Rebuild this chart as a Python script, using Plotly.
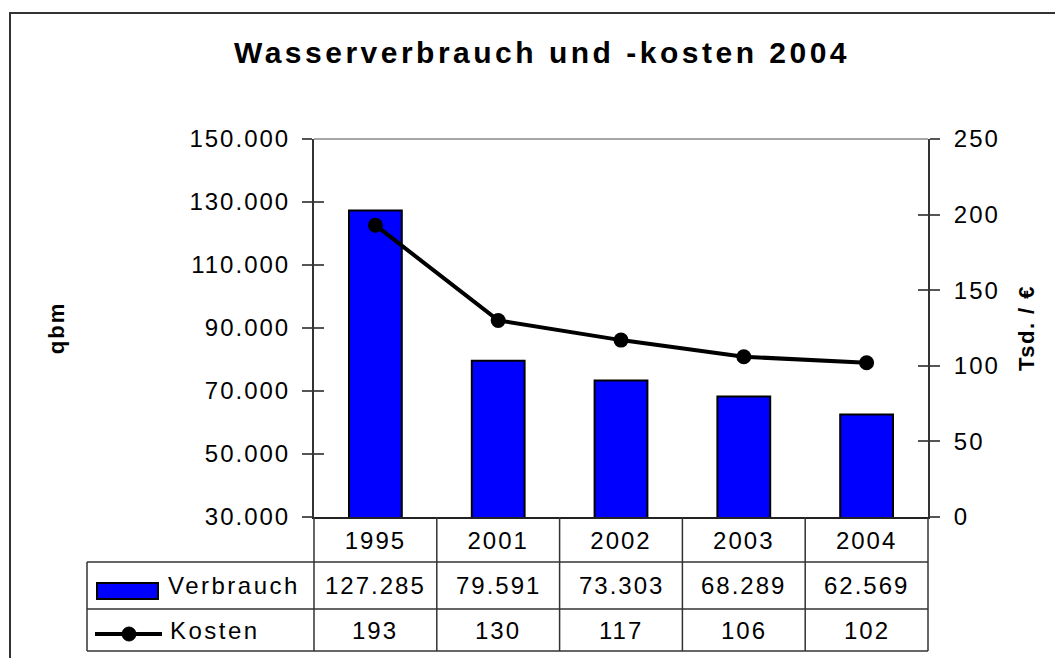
import plotly.graph_objects as go

# ---- data ----
years = ["1995", "2001", "2002", "2003", "2004"]
verbrauch = [127285, 79591, 73303, 68289, 62569]   # qbm
kosten = [193, 130, 117, 106, 102]                 # Tsd. €
left_ticks = [30000, 50000, 70000, 90000, 110000, 130000, 150000]
right_ticks = [0, 50, 100, 150, 200, 250]
title_text = "Wasserverbrauch und -kosten 2004"
left_title = "qbm"
right_title = "Tsd. / €"
series_names = ["Verbrauch", "Kosten"]

FONT = "Liberation Sans, Arial, sans-serif"
OFF = 8                      # default page body margin
W, H = 1063 - OFF, 666 - 2 * OFF   # no page overflow -> no scrollbars
L, R, T, B = 314, 928, 139, 517  # plot area in page pixels


def px_x(x):
    return (x - L) / (R - L)


def px_y(y):
    return (B - y) / (B - T)


def sp(s, px):
    return f'<span style="letter-spacing:{px}px">{s}</span>'


def de(v):
    return f"{v:,}".replace(",", ".")


xs = list(range(len(years)))

fig = go.Figure()
fig.add_trace(go.Bar(
    x=xs, y=verbrauch, name=series_names[0], width=0.43,
    marker=dict(color="#0000FF", line=dict(color="black", width=2)),
    yaxis="y", showlegend=False,
))
fig.add_trace(go.Scatter(
    x=xs, y=kosten, name=series_names[1], mode="lines+markers",
    line=dict(color="black", width=4),
    marker=dict(color="black", size=15),
    yaxis="y2", showlegend=False, cliponaxis=False,
))

tick_font = dict(family=FONT, size=24, color="black")

fig.update_layout(
    width=W, height=H,
    margin=dict(l=L - OFF, r=W - (R - OFF), t=T - OFF, b=H - (B - OFF), autoexpand=False),
    paper_bgcolor="white", plot_bgcolor="white",
    showlegend=False,
    title=dict(
        text=sp(title_text, 3.5), x=(542 - OFF) / W, xanchor="center", xref="container",
        y=1 - (52 - OFF) / H, yanchor="middle", yref="container",
        font=dict(family=FONT, size=30, color="black", weight="bold"),
    ),
    xaxis=dict(
        range=[-0.5, len(years) - 0.5], tickvals=xs,
        ticktext=[sp(y, 2) for y in years], tickfont=tick_font,
        ticks="", showgrid=False, zeroline=False,
        showline=True, linecolor="#222", linewidth=2,
        ticklabelstandoff=1,
    ),
    yaxis=dict(
        range=[left_ticks[0], left_ticks[-1]], tickvals=left_ticks,
        ticktext=[sp(de(v), 2) for v in left_ticks], tickfont=tick_font,
        ticks="outside", ticklen=10, tickwidth=2, tickcolor="#555",
        showgrid=False, zeroline=False,
        showline=True, linecolor="#333", linewidth=2,
        ticklabelstandoff=7,
        title=dict(text=sp(left_title, 2), standoff=119,
                   font=dict(family=FONT, size=22, color="black", weight="bold")),
    ),
    yaxis2=dict(
        range=[right_ticks[0], right_ticks[-1]], tickvals=right_ticks,
        ticktext=[sp(str(v), 2) for v in right_ticks], tickfont=tick_font,
        overlaying="y", side="right", anchor="x",
        ticks="outside", ticklen=10, tickwidth=2, tickcolor="#555",
        showgrid=False, zeroline=False,
        showline=True, linecolor="#333", linewidth=2,
        ticklabelstandoff=9,
        title=dict(text=sp(right_title, 1.5), standoff=20,
                   font=dict(family=FONT, size=22, color="black", weight="bold")),
    ),
    yaxis3=dict(
        range=[left_ticks[0], left_ticks[-1]], tickvals=left_ticks,
        overlaying="y", side="left", anchor="x",
        ticks="inside", ticklen=10, tickwidth=2, tickcolor="#555",
        showticklabels=False, showgrid=False, zeroline=False, showline=False,
    ),
    yaxis4=dict(
        range=[right_ticks[0], right_ticks[-1]], tickvals=right_ticks,
        overlaying="y", side="right", anchor="x",
        ticks="inside", ticklen=10, tickwidth=2, tickcolor="#555",
        showticklabels=False, showgrid=False, zeroline=False, showline=False,
    ),
)

# invisible traces so the overlay tick axes render
fig.add_trace(go.Scatter(x=[xs[0]], y=[left_ticks[0]], yaxis="y3", mode="markers",
                         marker=dict(opacity=0), showlegend=False, hoverinfo="skip"))
fig.add_trace(go.Scatter(x=[xs[0]], y=[right_ticks[0]], yaxis="y4", mode="markers",
                         marker=dict(opacity=0), showlegend=False, hoverinfo="skip"))

shapes = []
line_c = "#333"
# outer chart border: top and left edges (the rest runs off the picture)
shapes.append(dict(type="line", xref="paper", yref="paper",
                   x0=px_x(9), x1=px_x(1100), y0=px_y(13), y1=px_y(13),
                   line=dict(color="#333", width=2)))
shapes.append(dict(type="line", xref="paper", yref="paper",
                   x0=px_x(10), x1=px_x(10), y0=px_y(12), y1=px_y(720),
                   line=dict(color="#333", width=2)))
# top border of plot area
shapes.append(dict(type="line", xref="paper", yref="paper", x0=0, x1=1, y0=1, y1=1,
                   line=dict(color="#888", width=1.5)))
# table horizontal lines
tbl_left = px_x(87)
for yy in (562, 609, 651):
    shapes.append(dict(type="line", xref="paper", yref="paper", x0=tbl_left, x1=1,
                       y0=px_y(yy), y1=px_y(yy), line=dict(color=line_c, width=1.5)))
# table left border
shapes.append(dict(type="line", xref="paper", yref="paper", x0=tbl_left, x1=tbl_left,
                   y0=px_y(562), y1=px_y(651), line=dict(color=line_c, width=1.5)))
# column borders
for xb in (0, 1):
    shapes.append(dict(type="line", xref="paper", yref="paper", x0=xb, x1=xb,
                       y0=0, y1=px_y(651), line=dict(color=line_c, width=1.5)))
for i in range(len(years) - 1):
    shapes.append(dict(type="line", xref="x", yref="paper", x0=i + 0.5, x1=i + 0.5,
                       y0=0, y1=px_y(651), line=dict(color=line_c, width=1.5)))
# legend keys in table
shapes.append(dict(type="rect", xref="paper", yref="paper",
                   x0=px_x(97), x1=px_x(158), y0=px_y(599), y1=px_y(583),
                   fillcolor="#0000FF", line=dict(color="black", width=2)))
shapes.append(dict(type="line", xref="paper", yref="paper",
                   x0=px_x(95), x1=px_x(162), y0=px_y(634), y1=px_y(634),
                   line=dict(color="black", width=4)))
shapes.append(dict(type="circle", xref="paper", yref="paper",
                   x0=px_x(122), x1=px_x(136), y0=px_y(641), y1=px_y(627),
                   fillcolor="black", line=dict(color="black", width=1)))
fig.update_layout(shapes=shapes)

ann = []
row_y = [px_y(585.5), px_y(630)]
for i in xs:
    ann.append(dict(x=i, y=row_y[0], xref="x", yref="paper", text=sp(de(verbrauch[i]), 2),
                    showarrow=False, font=tick_font, xanchor="center", yanchor="middle"))
    ann.append(dict(x=i, y=row_y[1], xref="x", yref="paper", text=sp(str(kosten[i]), 2),
                    showarrow=False, font=tick_font, xanchor="center", yanchor="middle"))
ann.append(dict(x=px_x(166), y=row_y[0], xref="paper", yref="paper",
                text=sp(series_names[0], 2.5), showarrow=False, font=tick_font,
                xanchor="left", yanchor="middle"))
ann.append(dict(x=px_x(168), y=row_y[1], xref="paper", yref="paper",
                text=sp(series_names[1], 2.5), showarrow=False, font=tick_font,
                xanchor="left", yanchor="middle"))
fig.update_layout(annotations=ann)

fig.write_html("out.html")
